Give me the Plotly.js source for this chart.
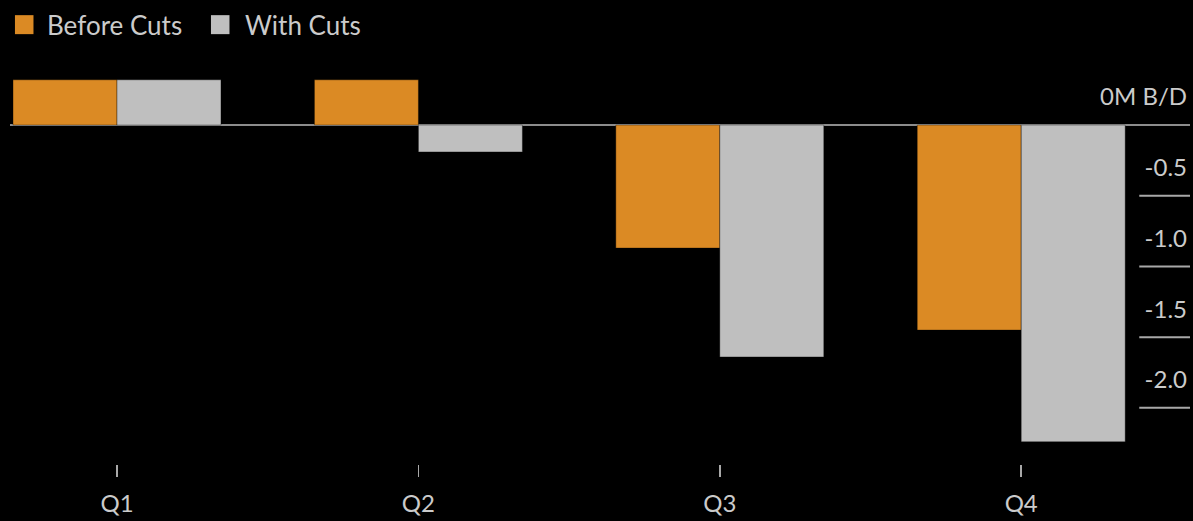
<!DOCTYPE html>
<html>
<head>
<meta charset="utf-8">
<script src="https://cdn.plot.ly/plotly-3.0.1.min.js"></script>
<style>
html,body{margin:0;padding:0;background:#000;}
#chart{width:1193px;height:521px;}
</style>
</head>
<body>
<div id="chart"></div>
<script>
const quarters = ["Q1", "Q2", "Q3", "Q4"];
const seriesNames = ["Before Cuts", "With Cuts"];
const beforeCuts = [0.32, 0.32, -0.87, -1.45];
const withCuts = [0.32, -0.19, -1.64, -2.24];
const yTickVals = [0, -0.5, -1.0, -1.5, -2.0];
const yTickText = ["0M B/D", "-0.5", "-1.0", "-1.5", "-2.0"];

const orange = "#DB8A24";
const gray = "#BFBFBF";
const textColor = "#CBCBCB";
const font = "Lato, 'Noto Sans', sans-serif";

const traces = [
  {type: "bar", name: seriesNames[0], x: quarters, y: beforeCuts,
   marker: {color: orange, line: {color: "rgba(0,0,0,0.35)", width: 1}}},
  {type: "bar", name: seriesNames[1], x: quarters, y: withCuts,
   marker: {color: gray, line: {color: "rgba(0,0,0,0.35)", width: 1}}}
];

const shapes = yTickVals.filter(v => v !== 0).map(v => ({
  type: "line", xref: "paper", yref: "y", x0: 0.957, x1: 1, y0: v, y1: v,
  line: {color: "#A8A8A8", width: 2}
}));

// custom legend (larger swatches than Plotly's built-in legend)
const legendColors = [orange, gray];
const swatchX = [0.0042, 0.1703];
const textX = [0.0297, 0.1975];
seriesNames.forEach((n, i) => {
  shapes.push({type: "rect", xref: "paper", yref: "paper",
    x0: swatchX[i], x1: swatchX[i] + 0.0157, y0: 1.064, y1: 1.111,
    fillcolor: legendColors[i], line: {width: 0}});
});
const annotations = seriesNames.map((n, i) => ({
  xref: "paper", yref: "paper", x: textX[i], y: 1.0866, xanchor: "left", yanchor: "middle",
  text: n, showarrow: false, font: {family: font, size: 26, color: textColor}
}));

const layout = {
  width: 1193, height: 521,
  paper_bgcolor: "#000", plot_bgcolor: "#000",
  margin: {l: 10, r: 3, t: 60, b: 57},
  barmode: "group", bargap: 0.31, bargroupgap: 0,
  showlegend: false,
  font: {family: font, color: textColor, size: 24},
  xaxis: {type: "category", range: [-0.355, 3.56], showgrid: false, zeroline: false, showline: false,
          ticks: "outside", ticklen: 12, tickwidth: 1.5, tickcolor: "#A8A8A8",
          ticklabelstandoff: 6, tickfont: {family: font, size: 24, color: textColor}},
  yaxis: {range: [-2.397, 0.46], side: "right", showgrid: false, showline: false,
          zeroline: true, zerolinecolor: "#8C8C8C", zerolinewidth: 2,
          tickmode: "array", tickvals: yTickVals, ticktext: yTickText,
          ticks: "", ticklabelposition: "inside", ticklabelshift: -28, ticklabelstandoff: 0,
          tickfont: {family: font, size: 24, color: textColor}},
  shapes: shapes,
  annotations: annotations
};

Plotly.newPlot("chart", traces, layout, {displayModeBar: false, staticPlot: true});
</script>
</body>
</html>
